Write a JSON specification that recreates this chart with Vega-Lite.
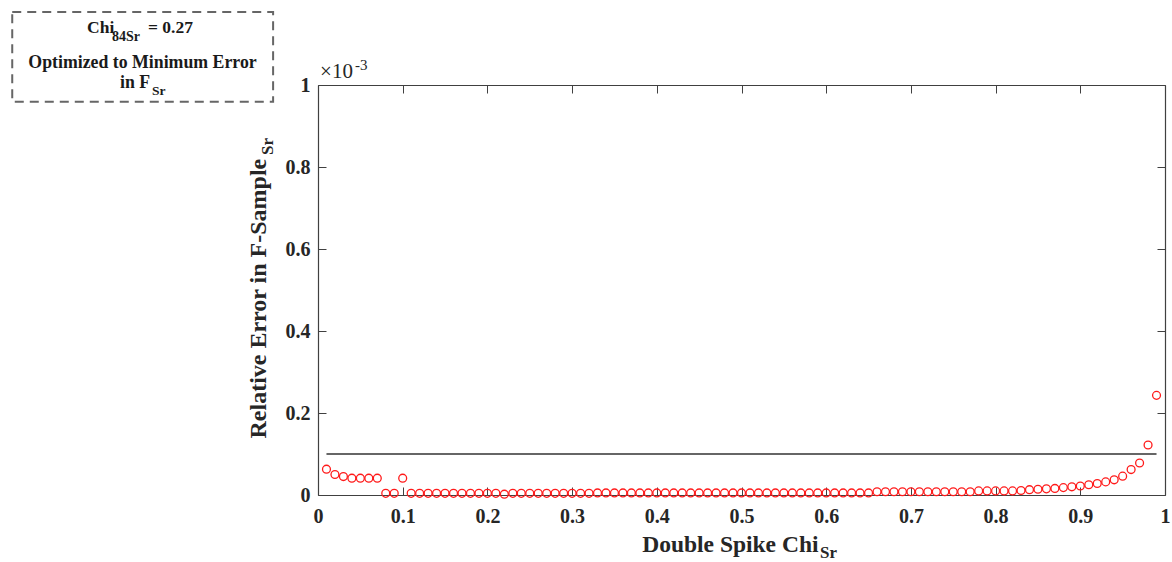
{
  "$schema": "https://vega.github.io/schema/vega-lite/v6.json",
  "width": 847,
  "height": 410,
  "autosize": {"type": "none"},
  "padding": {"left": 318, "top": 85, "right": 7, "bottom": 67},
  "background": "white",
  "config": {"view": {"stroke": null}, "font": "Liberation Serif"},
  "datasets": {
    "err": [
      {"chi":0.01,"error":0.000063},{"chi":0.02,"error":0.000050},{"chi":0.03,"error":0.000045},{"chi":0.04,"error":0.000041},{"chi":0.05,"error":0.000041},
      {"chi":0.06,"error":0.000041},{"chi":0.07,"error":0.000041},{"chi":0.08,"error":0.000004},{"chi":0.09,"error":0.000004},{"chi":0.10,"error":0.000041},
      {"chi":0.11,"error":0.000004},{"chi":0.12,"error":0.000004},{"chi":0.13,"error":0.000004},{"chi":0.14,"error":0.000004},{"chi":0.15,"error":0.000004},
      {"chi":0.16,"error":0.000004},{"chi":0.17,"error":0.000004},{"chi":0.18,"error":0.000004},{"chi":0.19,"error":0.000004},{"chi":0.20,"error":0.000004},
      {"chi":0.21,"error":0.000004},{"chi":0.22,"error":0.000002},{"chi":0.23,"error":0.000004},{"chi":0.24,"error":0.000004},{"chi":0.25,"error":0.000004},
      {"chi":0.26,"error":0.000004},{"chi":0.27,"error":0.000004},{"chi":0.28,"error":0.000004},{"chi":0.29,"error":0.000004},{"chi":0.30,"error":0.000004},
      {"chi":0.31,"error":0.000004},{"chi":0.32,"error":0.000004},{"chi":0.33,"error":0.000005},{"chi":0.34,"error":0.000005},{"chi":0.35,"error":0.000005},
      {"chi":0.36,"error":0.000005},{"chi":0.37,"error":0.000005},{"chi":0.38,"error":0.000005},{"chi":0.39,"error":0.000005},{"chi":0.40,"error":0.000005},
      {"chi":0.41,"error":0.000005},{"chi":0.42,"error":0.000005},{"chi":0.43,"error":0.000005},{"chi":0.44,"error":0.000005},{"chi":0.45,"error":0.000005},
      {"chi":0.46,"error":0.000005},{"chi":0.47,"error":0.000005},{"chi":0.48,"error":0.000005},{"chi":0.49,"error":0.000005},{"chi":0.50,"error":0.000005},
      {"chi":0.51,"error":0.000005},{"chi":0.52,"error":0.000005},{"chi":0.53,"error":0.000005},{"chi":0.54,"error":0.000005},{"chi":0.55,"error":0.000005},
      {"chi":0.56,"error":0.000005},{"chi":0.57,"error":0.000005},{"chi":0.58,"error":0.000005},{"chi":0.59,"error":0.000005},{"chi":0.60,"error":0.000005},
      {"chi":0.61,"error":0.000005},{"chi":0.62,"error":0.000005},{"chi":0.63,"error":0.000005},{"chi":0.64,"error":0.000005},{"chi":0.65,"error":0.000005},
      {"chi":0.66,"error":0.000008},{"chi":0.67,"error":0.000008},{"chi":0.68,"error":0.000008},{"chi":0.69,"error":0.000008},{"chi":0.70,"error":0.000008},
      {"chi":0.71,"error":0.000008},{"chi":0.72,"error":0.000008},{"chi":0.73,"error":0.000008},{"chi":0.74,"error":0.000008},{"chi":0.75,"error":0.000008},
      {"chi":0.76,"error":0.000008},{"chi":0.77,"error":0.000008},{"chi":0.78,"error":0.000010},{"chi":0.79,"error":0.000010},{"chi":0.80,"error":0.000010},
      {"chi":0.81,"error":0.000010},{"chi":0.82,"error":0.000010},{"chi":0.83,"error":0.000011},{"chi":0.84,"error":0.000013},{"chi":0.85,"error":0.000014},
      {"chi":0.86,"error":0.000015},{"chi":0.87,"error":0.000016},{"chi":0.88,"error":0.000018},{"chi":0.89,"error":0.000020},{"chi":0.90,"error":0.000022},
      {"chi":0.91,"error":0.000025},{"chi":0.92,"error":0.000028},{"chi":0.93,"error":0.000032},{"chi":0.94,"error":0.000037},{"chi":0.95,"error":0.000046},
      {"chi":0.96,"error":0.000062},{"chi":0.97,"error":0.000078},{"chi":0.98,"error":0.000122},{"chi":0.99,"error":0.000243}
    ],
    "ref": [{"chi":0.01,"error":0.0001},{"chi":0.99,"error":0.0001}],
    "one": [{}]
  },
  "layer": [
    {
      "data": {"name": "ref"},
      "mark": {"type": "line", "color": "#333333", "strokeWidth": 1.6, "clip": false},
      "encoding": {
        "x": {"field": "chi", "type": "quantitative", "scale": {"domain": [0, 1], "nice": false, "zero": false},
          "axis": {"orient": "top", "values": [0,0.1,0.2,0.3,0.4,0.5,0.6,0.7,0.8,0.9,1], "labels": false, "title": null, "grid": false,
            "tickSize": -8, "tickColor": "#404040", "tickWidth": 1, "domainColor": "#404040", "domainWidth": 1.2}},
        "y": {"field": "error", "type": "quantitative", "scale": {"domain": [0, 0.001], "nice": false, "zero": false},
          "axis": {"orient": "right", "values": [0,0.0002,0.0004,0.0006,0.0008,0.001], "labels": false, "title": null, "grid": false,
            "tickSize": -8, "tickColor": "#404040", "tickWidth": 1, "domainColor": "#404040", "domainWidth": 1.2}}
      }
    },
    {
      "data": {"name": "err"},
      "mark": {"type": "point", "shape": "circle", "filled": false, "color": "#ff1a1a", "size": 62, "strokeWidth": 1.3, "opacity": 1, "clip": false},
      "encoding": {
        "x": {"field": "chi", "type": "quantitative", "scale": {"domain": [0, 1], "nice": false, "zero": false},
          "axis": {"orient": "bottom", "values": [0,0.1,0.2,0.3,0.4,0.5,0.6,0.7,0.8,0.9,1], "format": ".1~f", "grid": false,
            "labelFont": "Liberation Serif", "labelFontWeight": "bold", "labelFontSize": 20, "labelColor": "#262626", "labelPadding": 19,
            "labelFlush": false, "labelOverlap": false,
            "tickSize": -8, "tickColor": "#404040", "tickWidth": 1, "domainColor": "#404040", "domainWidth": 1.2,
            "title": "Double Spike Chi", "titleFont": "Liberation Serif", "titleFontWeight": "bold", "titleFontSize": 23.5, "titleColor": "#262626",
            "titleX": 500, "titleY": 56, "titleAlign": "right", "titleBaseline": "alphabetic"}},
        "y": {"field": "error", "type": "quantitative", "scale": {"domain": [0, 0.001], "nice": false, "zero": false},
          "axis": {"orient": "left", "values": [0,0.0002,0.0004,0.0006,0.0008,0.001], "labelExpr": "format(datum.value*1000, '.1~f')", "grid": false,
            "labelFont": "Liberation Serif", "labelFontWeight": "bold", "labelFontSize": 20, "labelColor": "#262626", "labelPadding": 16,
            "labelFlush": false, "labelOverlap": false,
            "tickSize": -8, "tickColor": "#404040", "tickWidth": 1, "domainColor": "#404040", "domainWidth": 1.2,
            "title": "Relative Error in F-Sample", "titleFont": "Liberation Serif", "titleFontWeight": "bold", "titleFontSize": 24, "titleColor": "#262626",
            "titleX": -53, "titleY": 353, "titleAngle": 270, "titleAlign": "left", "titleBaseline": "alphabetic"}}
      }
    },
    {
      "data": {"name": "one"},
      "mark": {"type": "text", "text": "Sr", "font": "Liberation Serif", "fontWeight": "bold", "fontSize": 17, "color": "#262626", "align": "left", "baseline": "alphabetic", "clip": false},
      "encoding": {
        "x": {"datum": 0.5927, "type": "quantitative", "scale": {"domain": [0, 1], "nice": false, "zero": false}, "axis": null},
        "y": {"datum": -0.000153, "type": "quantitative", "scale": {"domain": [0, 0.001], "nice": false, "zero": false}, "axis": null}
      }
    },
    {
      "data": {"name": "one"},
      "mark": {"type": "text", "text": "Sr", "font": "Liberation Serif", "fontWeight": "bold", "fontSize": 17, "color": "#262626", "align": "left", "baseline": "alphabetic", "angle": 270, "clip": false},
      "encoding": {
        "x": {"datum": -0.0531, "type": "quantitative", "scale": {"domain": [0, 1], "nice": false, "zero": false}, "axis": null},
        "y": {"datum": 0.0008293, "type": "quantitative", "scale": {"domain": [0, 0.001], "nice": false, "zero": false}, "axis": null}
      }
    },
    {
      "data": {"name": "one"},
      "mark": {"type": "text", "text": "×10", "font": "Liberation Serif", "fontSize": 21, "color": "#262626", "align": "left", "baseline": "alphabetic", "clip": false},
      "encoding": {
        "x": {"datum": 0.0024, "type": "quantitative", "scale": {"domain": [0, 1], "nice": false, "zero": false}, "axis": null},
        "y": {"datum": 0.0010171, "type": "quantitative", "scale": {"domain": [0, 0.001], "nice": false, "zero": false}, "axis": null}
      }
    },
    {
      "data": {"name": "one"},
      "mark": {"type": "text", "text": "-3", "font": "Liberation Serif", "fontSize": 15, "color": "#262626", "align": "left", "baseline": "alphabetic", "clip": false},
      "encoding": {
        "x": {"datum": 0.0437, "type": "quantitative", "scale": {"domain": [0, 1], "nice": false, "zero": false}, "axis": null},
        "y": {"datum": 0.0010366, "type": "quantitative", "scale": {"domain": [0, 0.001], "nice": false, "zero": false}, "axis": null}
      }
    },
    {
      "data": {"name": "one"},
      "mark": {"type": "rect", "fill": null, "stroke": "#666666", "strokeWidth": 2, "strokeDash": [9, 6], "clip": false},
      "encoding": {
        "x": {"datum": -0.361, "type": "quantitative", "scale": {"domain": [0, 1], "nice": false, "zero": false}, "axis": null},
        "x2": {"datum": -0.053},
        "y": {"datum": 0.001178, "type": "quantitative", "scale": {"domain": [0, 0.001], "nice": false, "zero": false}, "axis": null},
        "y2": {"datum": 0.000959}
      }
    },
    {
      "data": {"name": "one"},
      "mark": {"type": "text", "text": "Chi", "font": "Liberation Serif", "fontWeight": "bold", "fontSize": 17.5, "color": "#1a1a1a", "align": "left", "baseline": "alphabetic", "clip": false},
      "encoding": {
        "x": {"datum": -0.2727, "type": "quantitative", "scale": {"domain": [0, 1], "nice": false, "zero": false}, "axis": null},
        "y": {"datum": 0.0011268, "type": "quantitative", "scale": {"domain": [0, 0.001], "nice": false, "zero": false}, "axis": null}
      }
    },
    {
      "data": {"name": "one"},
      "mark": {"type": "text", "text": "84Sr", "font": "Liberation Serif", "fontWeight": "bold", "fontSize": 14, "color": "#1a1a1a", "align": "left", "baseline": "alphabetic", "clip": false},
      "encoding": {
        "x": {"datum": -0.2432, "type": "quantitative", "scale": {"domain": [0, 1], "nice": false, "zero": false}, "axis": null},
        "y": {"datum": 0.001108, "type": "quantitative", "scale": {"domain": [0, 0.001], "nice": false, "zero": false}, "axis": null}
      }
    },
    {
      "data": {"name": "one"},
      "mark": {"type": "text", "text": "= 0.27", "font": "Liberation Serif", "fontWeight": "bold", "fontSize": 17.5, "color": "#1a1a1a", "align": "left", "baseline": "alphabetic", "clip": false},
      "encoding": {
        "x": {"datum": -0.2007, "type": "quantitative", "scale": {"domain": [0, 1], "nice": false, "zero": false}, "axis": null},
        "y": {"datum": 0.0011268, "type": "quantitative", "scale": {"domain": [0, 0.001], "nice": false, "zero": false}, "axis": null}
      }
    },
    {
      "data": {"name": "one"},
      "mark": {"type": "text", "text": "Optimized to Minimum Error", "font": "Liberation Serif", "fontWeight": "bold", "fontSize": 17.8, "color": "#1a1a1a", "align": "center", "baseline": "alphabetic", "clip": false},
      "encoding": {
        "x": {"datum": -0.2072, "type": "quantitative", "scale": {"domain": [0, 1], "nice": false, "zero": false}, "axis": null},
        "y": {"datum": 0.0010415, "type": "quantitative", "scale": {"domain": [0, 0.001], "nice": false, "zero": false}, "axis": null}
      }
    },
    {
      "data": {"name": "one"},
      "mark": {"type": "text", "text": "in F", "font": "Liberation Serif", "fontWeight": "bold", "fontSize": 17.8, "color": "#1a1a1a", "align": "left", "baseline": "alphabetic", "clip": false},
      "encoding": {
        "x": {"datum": -0.2338, "type": "quantitative", "scale": {"domain": [0, 1], "nice": false, "zero": false}, "axis": null},
        "y": {"datum": 0.0009927, "type": "quantitative", "scale": {"domain": [0, 0.001], "nice": false, "zero": false}, "axis": null}
      }
    },
    {
      "data": {"name": "one"},
      "mark": {"type": "text", "text": "Sr", "font": "Liberation Serif", "fontWeight": "bold", "fontSize": 13.5, "color": "#1a1a1a", "align": "left", "baseline": "alphabetic", "clip": false},
      "encoding": {
        "x": {"datum": -0.1960, "type": "quantitative", "scale": {"domain": [0, 1], "nice": false, "zero": false}, "axis": null},
        "y": {"datum": 0.0009756, "type": "quantitative", "scale": {"domain": [0, 0.001], "nice": false, "zero": false}, "axis": null}
      }
    }
  ],
  "resolve": {"axis": {"x": "independent", "y": "independent"}}
}
